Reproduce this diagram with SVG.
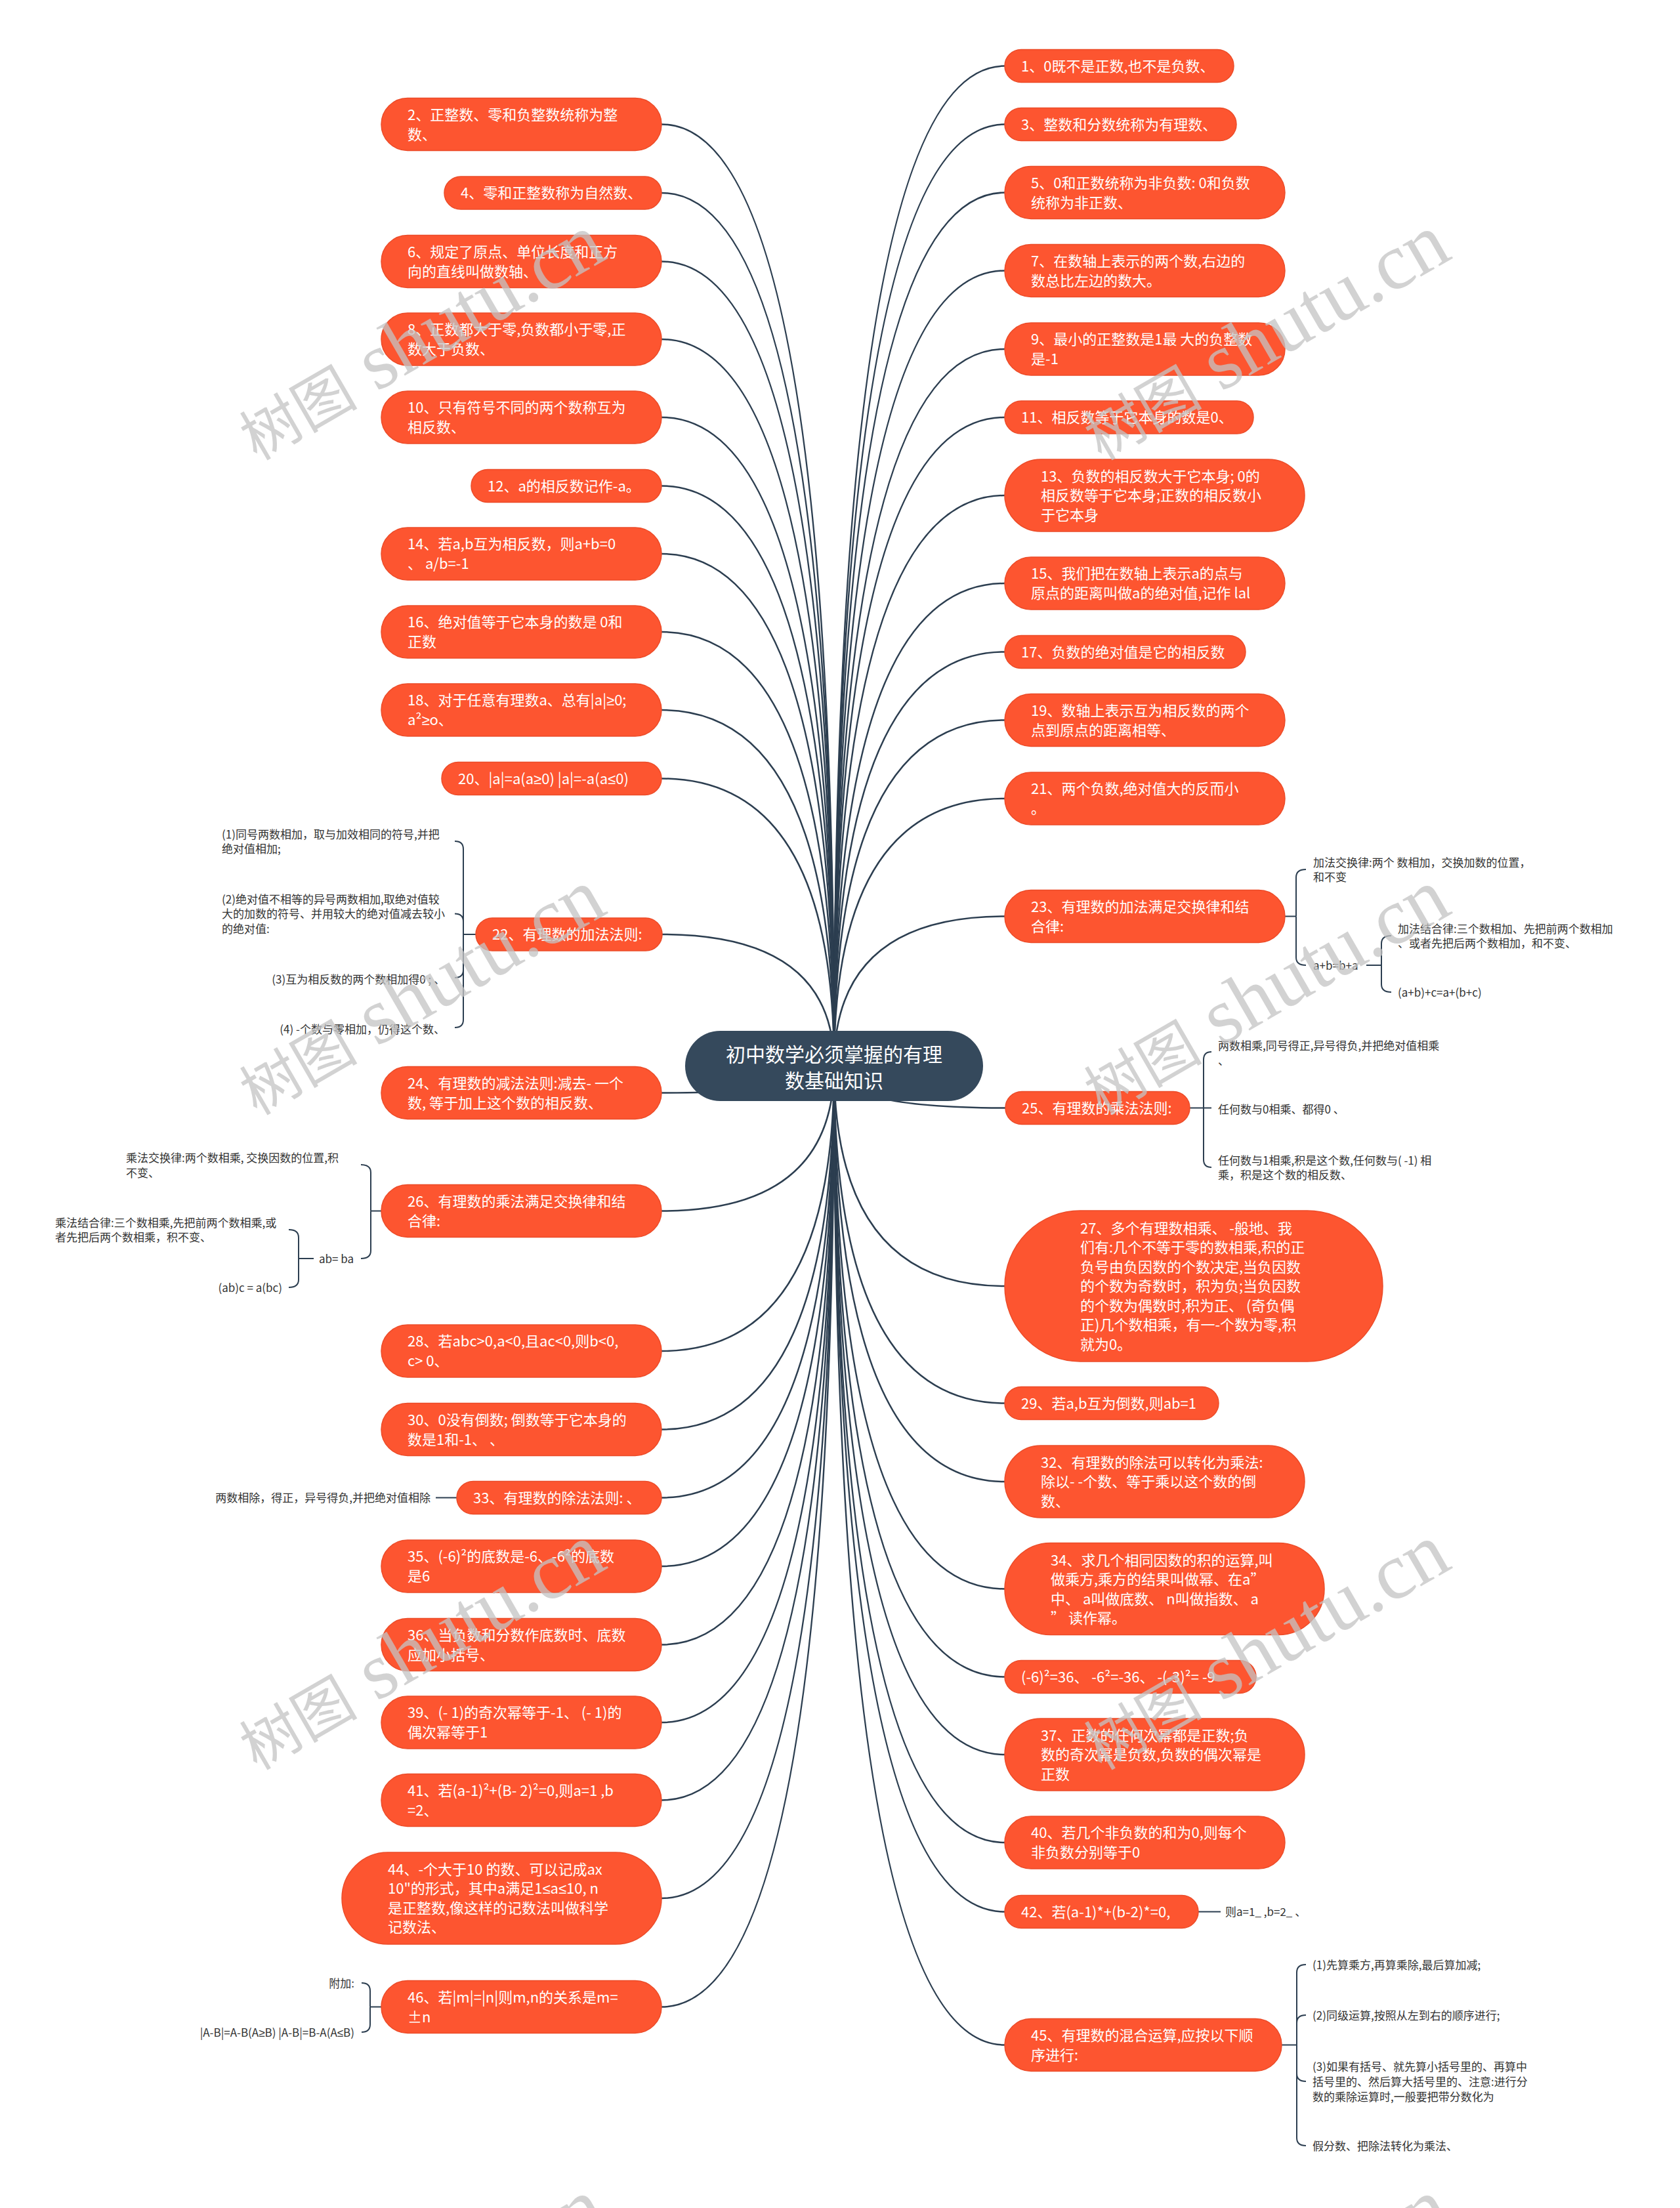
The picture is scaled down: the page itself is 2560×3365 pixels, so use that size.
<svg xmlns="http://www.w3.org/2000/svg" width="2560" height="3365" viewBox="0 0 2560 3365">
<style>
.n rect{fill:#fd5530;stroke:#ec4b28;stroke-width:1.5}
.n text{fill:#fff;font-size:22px;font-family:"Noto Sans CJK SC","Noto Sans",sans-serif}
.root rect{fill:#35495c}
.root text{fill:#fff;font-size:30px;font-family:"Noto Sans CJK SC","Noto Sans",sans-serif;text-anchor:middle}
.s text{fill:#333;font-size:17px;font-family:"Noto Sans CJK SC","Noto Sans",sans-serif}
.e{text-anchor:end}
.m{font-family:"Liberation Sans","DejaVu Sans",sans-serif}
#connectors path{fill:none;stroke:#2c3e50;stroke-width:2.5}
#connectors .b path{stroke-width:2}
.wm text{fill:#c4c4c4;opacity:0.75;font-size:90px;font-family:"Noto Sans CJK SC",sans-serif;text-anchor:middle}
.wm tspan.l{font-family:"Liberation Serif",serif;font-size:122px}
</style>
<rect width="2560" height="3365" fill="#fff"/>
<g id="connectors">
<path d="M1271 1624Q1271 189.5 1008 189.5"/>
<path d="M1271 1624Q1271 294 1008 294"/>
<path d="M1271 1624Q1271 398.5 1008 398.5"/>
<path d="M1271 1624Q1271 517 1008 517"/>
<path d="M1271 1624Q1271 636 1008 636"/>
<path d="M1271 1624Q1271 740.5 1008 740.5"/>
<path d="M1271 1624Q1271 844 1008 844"/>
<path d="M1271 1624Q1271 963 1008 963"/>
<path d="M1271 1624Q1271 1082 1008 1082"/>
<path d="M1271 1624Q1271 1186.5 1008 1186.5"/>
<path d="M1271 1624Q1271 1424 1008 1424"/>
<path d="M1271 1624Q1271 1665.5 1008 1665.5"/>
<path d="M1271 1624Q1271 1845.5 1008 1845.5"/>
<path d="M1271 1624Q1271 2059 1008 2059"/>
<path d="M1271 1624Q1271 2178.5 1008 2178.5"/>
<path d="M1271 1624Q1271 2282.5 1008 2282.5"/>
<path d="M1271 1624Q1271 2387 1008 2387"/>
<path d="M1271 1624Q1271 2506.5 1008 2506.5"/>
<path d="M1271 1624Q1271 2625 1008 2625"/>
<path d="M1271 1624Q1271 2743.5 1008 2743.5"/>
<path d="M1271 1624Q1271 2893 1008 2893"/>
<path d="M1271 1624Q1271 3058.5 1008 3058.5"/>
<path d="M1271 1624Q1271 100.5 1531 100.5"/>
<path d="M1271 1624Q1271 189.5 1531 189.5"/>
<path d="M1271 1624Q1271 293.5 1531 293.5"/>
<path d="M1271 1624Q1271 412.5 1531 412.5"/>
<path d="M1271 1624Q1271 532 1531 532"/>
<path d="M1271 1624Q1271 636 1531 636"/>
<path d="M1271 1624Q1271 755 1531 755"/>
<path d="M1271 1624Q1271 889 1531 889"/>
<path d="M1271 1624Q1271 993.5 1531 993.5"/>
<path d="M1271 1624Q1271 1097.5 1531 1097.5"/>
<path d="M1271 1624Q1271 1217 1531 1217"/>
<path d="M1271 1624Q1271 1396.5 1531 1396.5"/>
<path d="M1271 1624Q1271 1688.5 1532 1688.5"/>
<path d="M1271 1624Q1271 1960 1531 1960"/>
<path d="M1271 1624Q1271 2138.5 1531 2138.5"/>
<path d="M1271 1624Q1271 2258 1531 2258"/>
<path d="M1271 1624Q1271 2421.5 1531 2421.5"/>
<path d="M1271 1624Q1271 2555.5 1531 2555.5"/>
<path d="M1271 1624Q1271 2674 1531 2674"/>
<path d="M1271 1624Q1271 2808 1531 2808"/>
<path d="M1271 1624Q1271 2913.5 1531 2913.5"/>
<path d="M1271 1624Q1271 3116.5 1531 3116.5"/>
<g class="b">
<path d="M725 1424H706"/>
<path d="M706 1424V1294Q706 1282 693 1282"/>
<path d="M706 1424V1404.5Q706 1392.5 693 1392.5"/>
<path d="M706 1424V1478Q706 1490 693 1490"/>
<path d="M706 1424V1554Q706 1566 693 1566"/>
<path d="M1958 1396.5H1975"/>
<path d="M1975 1396.5V1337Q1975 1325 1990 1325"/>
<path d="M1975 1396.5V1459Q1975 1471 1990 1471"/>
<path d="M2082 1471H2105"/>
<path d="M2105 1471V1438Q2105 1426 2120 1426"/>
<path d="M2105 1471V1500Q2105 1512 2120 1512"/>
<path d="M1813 1688.5H1834"/>
<path d="M1834 1688.5V1615Q1834 1603 1846 1603"/>
<path d="M1834 1688.5H1846"/>
<path d="M1834 1688.5V1767Q1834 1779 1846 1779"/>
<path d="M581 1845.5H565"/>
<path d="M565 1845.5V1787Q565 1775 550 1775"/>
<path d="M565 1845.5V1906Q565 1918 550 1918"/>
<path d="M478 1918H455"/>
<path d="M455 1918V1886Q455 1874 440 1874"/>
<path d="M455 1918V1950Q455 1962 440 1962"/>
<path d="M696 2282.5H664"/>
<path d="M1826 2913.5H1860"/>
<path d="M1953 3116.5H1976"/>
<path d="M1976 3116.5V3006Q1976 2994 1990 2994"/>
<path d="M1976 3116.5V3083Q1976 3071 1990 3071"/>
<path d="M1976 3116.5V3160Q1976 3172 1990 3172"/>
<path d="M1976 3116.5V3258Q1976 3270 1990 3270"/>
<path d="M581 3058.5H564"/>
<path d="M564 3058.5V3034Q564 3022 551 3022"/>
<path d="M564 3058.5V3085Q564 3097 551 3097"/>
</g>
</g>
<g id="root" class="root"><rect x="1044" y="1571" width="454" height="107" rx="53.5"/><text><tspan x="1271" y="1618">初中数学必须掌握的有理</tspan><tspan x="1271" y="1658">数基础知识</tspan></text></g>
<g id="n2" class="n"><rect x="581" y="149.5" width="427" height="80" rx="40"/><text><tspan x="621" y="182.5">2、正整数、零和负整数统称为整</tspan><tspan x="621" y="212.5">数、</tspan></text></g>
<g id="n4" class="n"><rect x="677" y="269" width="331" height="50" rx="25"/><text><tspan x="702" y="302">4、零和正整数称为自然数、</tspan></text></g>
<g id="n6" class="n"><rect x="581" y="358.5" width="427" height="80" rx="40"/><text><tspan x="621" y="391.5">6、规定了原点、单位长度和正方</tspan><tspan x="621" y="421.5">向的直线叫做数轴、</tspan></text></g>
<g id="n8" class="n"><rect x="581" y="477" width="427" height="80" rx="40"/><text><tspan x="621" y="510">8、正数都大于零,负数都小于零,正</tspan><tspan x="621" y="540">数大于负数、</tspan></text></g>
<g id="n10" class="n"><rect x="581" y="596" width="427" height="80" rx="40"/><text><tspan x="621" y="629">10、只有符号不同的两个数称互为</tspan><tspan x="621" y="659">相反数、</tspan></text></g>
<g id="n12" class="n"><rect x="718" y="715.5" width="290" height="50" rx="25"/><text><tspan x="743" y="748.5">12、a的相反数记作-a。</tspan></text></g>
<g id="n14" class="n"><rect x="581" y="804" width="427" height="80" rx="40"/><text><tspan x="621" y="837">14、若a,b互为相反数，则a+b=0</tspan><tspan x="621" y="867">、 a/b=-1</tspan></text></g>
<g id="n16" class="n"><rect x="581" y="923" width="427" height="80" rx="40"/><text><tspan x="621" y="956">16、绝对值等于它本身的数是 0和</tspan><tspan x="621" y="986">正数</tspan></text></g>
<g id="n18" class="n"><rect x="581" y="1042" width="427" height="80" rx="40"/><text><tspan x="621" y="1075">18、对于任意有理数a、总有|a|<tspan class="m">≥</tspan>0;</tspan><tspan x="621" y="1105">a²<tspan class="m">≥</tspan>o、</tspan></text></g>
<g id="n20" class="n"><rect x="673" y="1161.5" width="335" height="50" rx="25"/><text><tspan x="698" y="1194.5">20、|a|=a(a<tspan class="m">≥</tspan>0) |a|=-a(a<tspan class="m">≤</tspan>0)</tspan></text></g>
<g id="n22" class="n"><rect x="725" y="1399" width="284" height="50" rx="25"/><text><tspan x="750" y="1432">22、有理数的加法法则:</tspan></text></g>
<g id="n24" class="n"><rect x="581" y="1625.5" width="427" height="80" rx="40"/><text><tspan x="621" y="1658.5">24、有理数的减法法则:减去- 一个</tspan><tspan x="621" y="1688.5">数, 等于加上这个数的相反数、</tspan></text></g>
<g id="n26" class="n"><rect x="581" y="1805.5" width="427" height="80" rx="40"/><text><tspan x="621" y="1838.5">26、有理数的乘法满足交换律和结</tspan><tspan x="621" y="1868.5">合律:</tspan></text></g>
<g id="n28" class="n"><rect x="581" y="2019" width="427" height="80" rx="40"/><text><tspan x="621" y="2052">28、若abc&gt;0,a&lt;0,且ac&lt;0,则b&lt;0,</tspan><tspan x="621" y="2082">c&gt; 0、</tspan></text></g>
<g id="n30" class="n"><rect x="581" y="2138.5" width="427" height="80" rx="40"/><text><tspan x="621" y="2171.5">30、0没有倒数; 倒数等于它本身的</tspan><tspan x="621" y="2201.5">数是1和-1、 、</tspan></text></g>
<g id="n33" class="n"><rect x="696" y="2257.5" width="312" height="50" rx="25"/><text><tspan x="721" y="2290.5">33、有理数的除法法则: 、</tspan></text></g>
<g id="n35" class="n"><rect x="581" y="2347" width="427" height="80" rx="40"/><text><tspan x="621" y="2380">35、(-6)²的底数是-6、-6²的底数</tspan><tspan x="621" y="2410">是6</tspan></text></g>
<g id="n36" class="n"><rect x="581" y="2466.5" width="427" height="80" rx="40"/><text><tspan x="621" y="2499.5">36、当负数和分数作底数时、底数</tspan><tspan x="621" y="2529.5">应加小括号、</tspan></text></g>
<g id="n39" class="n"><rect x="581" y="2585" width="427" height="80" rx="40"/><text><tspan x="621" y="2618">39、(- 1)的奇次幂等于-1、 (- 1)的</tspan><tspan x="621" y="2648">偶次幂等于1</tspan></text></g>
<g id="n41" class="n"><rect x="581" y="2703.5" width="427" height="80" rx="40"/><text><tspan x="621" y="2736.5">41、若(a-1)²+(B- 2)²=0,则a=1 ,b</tspan><tspan x="621" y="2766.5">=2、</tspan></text></g>
<g id="n44" class="n"><rect x="521" y="2823" width="487" height="140" rx="70"/><text><tspan x="591" y="2857">44、-个大于10 的数、可以记成ax</tspan><tspan x="591" y="2886">10"的形式，其中a满足1<tspan class="m">≤</tspan>a<tspan class="m">≤</tspan>10, n</tspan><tspan x="591" y="2916">是正整数,像这样的记数法叫做科学</tspan><tspan x="591" y="2945">记数法、</tspan></text></g>
<g id="n46" class="n"><rect x="581" y="3018.5" width="427" height="80" rx="40"/><text><tspan x="621" y="3051.5">46、若|m|=|n|则m,n的关系是m=</tspan><tspan x="621" y="3081.5">±n</tspan></text></g>
<g id="n1" class="n"><rect x="1531" y="75.5" width="349" height="50" rx="25"/><text><tspan x="1556" y="108.5">1、0既不是正数,也不是负数、</tspan></text></g>
<g id="n3" class="n"><rect x="1531" y="164.5" width="353" height="50" rx="25"/><text><tspan x="1556" y="197.5">3、整数和分数统称为有理数、</tspan></text></g>
<g id="n5" class="n"><rect x="1531" y="253.5" width="427" height="80" rx="40"/><text><tspan x="1571" y="286.5">5、0和正数统称为非负数: 0和负数</tspan><tspan x="1571" y="316.5">统称为非正数、</tspan></text></g>
<g id="n7" class="n"><rect x="1531" y="372.5" width="427" height="80" rx="40"/><text><tspan x="1571" y="405.5">7、在数轴上表示的两个数,右边的</tspan><tspan x="1571" y="435.5">数总比左边的数大。</tspan></text></g>
<g id="n9" class="n"><rect x="1531" y="492" width="427" height="80" rx="40"/><text><tspan x="1571" y="525">9、最小的正整数是1最 大的负整数</tspan><tspan x="1571" y="555">是-1</tspan></text></g>
<g id="n11" class="n"><rect x="1531" y="611" width="379" height="50" rx="25"/><text><tspan x="1556" y="644">11、相反数等于它本身的数是0、</tspan></text></g>
<g id="n13" class="n"><rect x="1531" y="700" width="457" height="110" rx="55"/><text><tspan x="1586" y="733.5">13、负数的相反数大于它本身; 0的</tspan><tspan x="1586" y="763">相反数等于它本身;正数的相反数小</tspan><tspan x="1586" y="792.5">于它本身</tspan></text></g>
<g id="n15" class="n"><rect x="1531" y="849" width="427" height="80" rx="40"/><text><tspan x="1571" y="882">15、我们把在数轴上表示a的点与</tspan><tspan x="1571" y="912">原点的距离叫做a的绝对值,记作 lal</tspan></text></g>
<g id="n17" class="n"><rect x="1531" y="968.5" width="367" height="50" rx="25"/><text><tspan x="1556" y="1001.5">17、负数的绝对值是它的相反数</tspan></text></g>
<g id="n19" class="n"><rect x="1531" y="1057.5" width="427" height="80" rx="40"/><text><tspan x="1571" y="1090.5">19、数轴上表示互为相反数的两个</tspan><tspan x="1571" y="1120.5">点到原点的距离相等、</tspan></text></g>
<g id="n21" class="n"><rect x="1531" y="1177" width="427" height="80" rx="40"/><text><tspan x="1571" y="1210">21、两个负数,绝对值大的反而小</tspan><tspan x="1571" y="1240">。</tspan></text></g>
<g id="n23" class="n"><rect x="1531" y="1356.5" width="427" height="80" rx="40"/><text><tspan x="1571" y="1389.5">23、有理数的加法满足交换律和结</tspan><tspan x="1571" y="1419.5">合律:</tspan></text></g>
<g id="n25" class="n"><rect x="1532" y="1663.5" width="281" height="50" rx="25"/><text><tspan x="1557" y="1696.5">25、有理数的乘法法则:</tspan></text></g>
<g id="n27" class="n"><rect x="1531" y="1845" width="576" height="230" rx="115"/><text><tspan x="1646" y="1879.5">27、多个有理数相乘、 -般地、我</tspan><tspan x="1646" y="1909">们有:几个不等于零的数相乘,积的正</tspan><tspan x="1646" y="1938.5">负号由负因数的个数决定,当负因数</tspan><tspan x="1646" y="1968">的个数为奇数时，积为负;当负因数</tspan><tspan x="1646" y="1997.5">的个数为偶数时,积为正、 (奇负偶</tspan><tspan x="1646" y="2027">正)几个数相乘，有一-个数为零,积</tspan><tspan x="1646" y="2056.5">就为0。</tspan></text></g>
<g id="n29" class="n"><rect x="1531" y="2113.5" width="326" height="50" rx="25"/><text><tspan x="1556" y="2146.5">29、若a,b互为倒数,则ab=1</tspan></text></g>
<g id="n32" class="n"><rect x="1531" y="2203" width="457" height="110" rx="55"/><text><tspan x="1586" y="2236.5">32、有理数的除法可以转化为乘法:</tspan><tspan x="1586" y="2266">除以- -个数、等于乘以这个数的倒</tspan><tspan x="1586" y="2295.5">数、</tspan></text></g>
<g id="n34" class="n"><rect x="1531" y="2351.5" width="487" height="140" rx="70"/><text><tspan x="1601" y="2385.5">34、求几个相同因数的积的运算,叫</tspan><tspan x="1601" y="2414.5">做乘方,乘方的结果叫做幂、在a”</tspan><tspan x="1601" y="2444.5">中、 a叫做底数、 n叫做指数、 a</tspan><tspan x="1601" y="2473.5">” 读作幂。</tspan></text></g>
<g id="n38" class="n"><rect x="1531" y="2530.5" width="383" height="50" rx="25"/><text><tspan x="1556" y="2563.5">(-6)²=36、 -6²=-36、 -(-3)²= -9</tspan></text></g>
<g id="n37" class="n"><rect x="1531" y="2619" width="457" height="110" rx="55"/><text><tspan x="1586" y="2652.5">37、正数的任何次幂都是正数;负</tspan><tspan x="1586" y="2682">数的奇次幂是负数,负数的偶次幂是</tspan><tspan x="1586" y="2711.5">正数</tspan></text></g>
<g id="n40" class="n"><rect x="1531" y="2768" width="427" height="80" rx="40"/><text><tspan x="1571" y="2801">40、若几个非负数的和为0,则每个</tspan><tspan x="1571" y="2831">非负数分别等于0</tspan></text></g>
<g id="n42" class="n"><rect x="1531" y="2888.5" width="295" height="50" rx="25"/><text><tspan x="1556" y="2921.5">42、若(a-1)*+(b-2)*=0,</tspan></text></g>
<g id="n45" class="n"><rect x="1531" y="3076.5" width="422" height="80" rx="40"/><text><tspan x="1571" y="3109.5">45、有理数的混合运算,应按以下顺</tspan><tspan x="1571" y="3139.5">序进行:</tspan></text></g>
<g id="s22a" class="s"><text><tspan x="338" y="1277.5">(1)同号两数相加，取与加效相同的符号,并把</tspan><tspan x="338" y="1300">绝对值相加;</tspan></text></g>
<g id="s22b" class="s"><text><tspan x="338" y="1376.5">(2)绝对值不相等的异号两数相加,取绝对值较</tspan><tspan x="338" y="1399">大的加数的符号、并用较大的绝对值减去较小</tspan><tspan x="338" y="1421.5">的绝对值:</tspan></text></g>
<g id="s22c" class="s"><text class="e" x="678" y="1498.5">(3)互为相反数的两个数相加得0 ; 、</text></g>
<g id="s22d" class="s"><text class="e" x="678" y="1574.5">(4) -个数与零相加，仍得这个数、</text></g>
<g id="s23a" class="s"><text><tspan x="2001" y="1320.5">加法交换律:两个 数相加，交换加数的位置，</tspan><tspan x="2001" y="1342.5">和不变</tspan></text></g>
<g id="s23b" class="s"><text x="2001" y="1477.5">a+b=b+a</text></g>
<g id="s23b1" class="s"><text><tspan x="2130" y="1421.5">加法结合律:三个数相加、先把前两个数相加</tspan><tspan x="2130" y="1443.5">、或者先把后两个数相加，和不变、</tspan></text></g>
<g id="s23b2" class="s"><text x="2130" y="1518.5">(a+b)+c=a+(b+c)</text></g>
<g id="s25a" class="s"><text><tspan x="1856" y="1599.5">两数相乘,同号得正,异号得负,并把绝对值相乘</tspan><tspan x="1856" y="1622.5">、</tspan></text></g>
<g id="s25b" class="s"><text x="1856" y="1696.5">任何数与0相乘、都得0 、</text></g>
<g id="s25c" class="s"><text><tspan x="1856" y="1774.5">任何数与1相乘,积是这个数,任何数与( -1) 相</tspan><tspan x="1856" y="1796.5">乘，积是这个数的相反数、</tspan></text></g>
<g id="s26a" class="s"><text><tspan x="192" y="1770.5">乘法交换律:两个数相乘, 交换因数的位置,积</tspan><tspan x="192" y="1793.5">不变、</tspan></text></g>
<g id="s26b" class="s"><text class="e" x="539" y="1924.5">ab= ba</text></g>
<g id="s26b1" class="s"><text><tspan x="84" y="1869.5">乘法结合律:三个数相乘,先把前两个数相乘,或</tspan><tspan x="84" y="1891.5">者先把后两个数相乘，积不变、</tspan></text></g>
<g id="s26b2" class="s"><text class="e" x="430" y="1968.5">(ab)c = a(bc)</text></g>
<g id="s33a" class="s"><text class="e" x="656" y="2289">两数相除，得正，异号得负,并把绝对值相除</text></g>
<g id="s42a" class="s"><text x="1867" y="2920">则a=1_ ,b=2_ 、</text></g>
<g id="s45a" class="s"><text x="2000" y="3000.5">(1)先算乘方,再算乘除,最后算加减;</text></g>
<g id="s45b" class="s"><text x="2000" y="3077.5">(2)同级运算,按照从左到右的顺序进行;</text></g>
<g id="s45c" class="s"><text><tspan x="2000" y="3155.5">(3)如果有括号、就先算小括号里的、再算中</tspan><tspan x="2000" y="3178.5">括号里的、然后算大括号里的、注意:进行分</tspan><tspan x="2000" y="3201.5">数的乘除运算时,一般要把带分数化为</tspan></text></g>
<g id="s45d" class="s"><text x="2000" y="3276.5">假分数、把除法转化为乘法、</text></g>
<g id="s46a" class="s"><text class="e" x="540" y="3028.5">附加:</text></g>
<g id="s46b" class="s"><text class="e" x="540" y="3103.5">|A-B|=A-B(A<tspan class="m">≥</tspan>B)  |A-B|=B-A(A<tspan class="m">≤</tspan>B)</text></g>
<g class="wm">
<text transform="translate(644 520) rotate(-30)" y="32">树图<tspan class="l"> shutu.cn</tspan></text>
<text transform="translate(1931 520) rotate(-30)" y="32">树图<tspan class="l"> shutu.cn</tspan></text>
<text transform="translate(644 1518) rotate(-30)" y="32">树图<tspan class="l"> shutu.cn</tspan></text>
<text transform="translate(1931 1518) rotate(-30)" y="32">树图<tspan class="l"> shutu.cn</tspan></text>
<text transform="translate(644 2516) rotate(-30)" y="32">树图<tspan class="l"> shutu.cn</tspan></text>
<text transform="translate(1931 2516) rotate(-30)" y="32">树图<tspan class="l"> shutu.cn</tspan></text>
<text transform="translate(644 3514) rotate(-30)" y="32">树图<tspan class="l"> shutu.cn</tspan></text>
<text transform="translate(1931 3514) rotate(-30)" y="32">树图<tspan class="l"> shutu.cn</tspan></text>
</g>
</svg>
